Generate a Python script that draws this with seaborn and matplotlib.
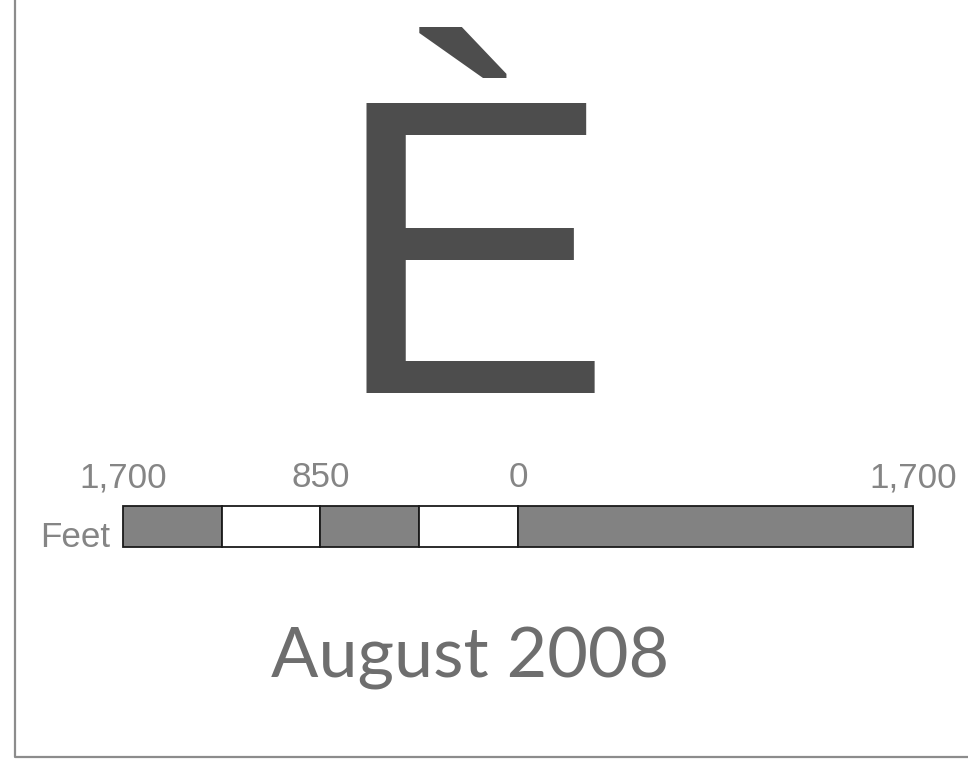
import matplotlib
matplotlib.use("Agg")
import matplotlib.pyplot as plt
import seaborn as sns

# scale bar data (feet)
seg_left = [-1700, -1275, -850, -425, 0]
seg_width = [425, 425, 425, 425, 1700]
seg_fill = ["#828282", "#ffffff", "#828282", "#ffffff", "#828282"]
tick_pos = [-1700, -850, 0, 1700]
tick_text = ["1,700", "850", "0", "1,700"]
unit_label = "Feet"
date_label = "August 2008"
north_glyph = "\u00c8"

W, H = 968, 761
sns.set_theme(style="white")
plt.rcParams["font.family"] = ["Liberation Sans", "DejaVu Sans"]

fig = plt.figure(figsize=(W / 100, H / 100), dpi=100)
ax = fig.add_axes([0, 0, 1, 1])

# feet -> pixel mapping: 0 ft at x=518 px, 1700 ft = 395 px
ppf = 395 / 1700
ax.set_xlim((0 - 518) / ppf, (W - 518) / ppf)
ax.set_ylim(H, 0)

ax.barh([526.5] * len(seg_left), seg_width, left=seg_left, height=41,
        color=seg_fill, edgecolor="#1a1a1a", linewidth=1.3)

for p, t in zip(tick_pos, tick_text):
    ax.text(p, 487, t, ha="center", va="baseline", fontsize=25.2,
            color="#858585")
ax.text((110 - 518) / ppf, 547, unit_label, ha="right", va="baseline",
        fontsize=25.2, color="#858585")

ax.set_axis_off()
sns.despine(ax=ax, left=True, bottom=True)


def fpos(x, y):
    return x / W, 1 - y / H


# north arrow glyph
fig.text(*fpos(472, 393), north_glyph, ha="center", va="baseline",
         fontsize=303, color="#4d4d4d", family=["Liberation Sans", "DejaVu Sans"])

# date
fig.text(*fpos(470, 677), date_label, ha="center", va="baseline",
         fontsize=50.5, color="#6e6e6e", family=["Lato", "DejaVu Sans"])

# frame
x0, y0 = fpos(15, 757)
fig.add_artist(plt.Line2D([x0, x0, 1.0], [1.0, y0, y0], color="#8c8c8c",
                          linewidth=1.6))

fig.savefig("out.png", dpi=100, facecolor="white")
